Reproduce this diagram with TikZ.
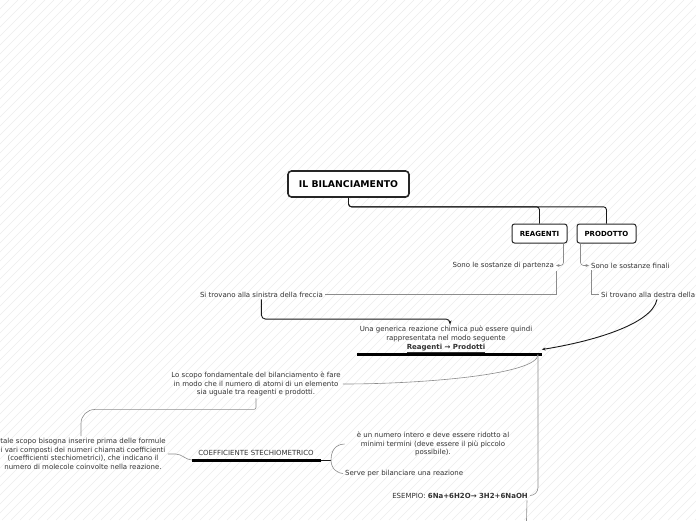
\documentclass[tikz,border=0pt]{standalone}
\usepackage{fontspec}
\setmainfont{DejaVu Sans}
\usetikzlibrary{arrows.meta}

\begin{document}
\begin{tikzpicture}[x=1pt,y=-1pt,
    hatch/.style={black!7,line width=.6pt},
    rootbox/.style={draw=black!85,line width=1.6pt,rounded corners=3.5pt,fill=white,minimum width=121pt,minimum height=26pt,font=\fontsize{9.3}{11}\selectfont\bfseries},
    tagbox/.style={draw=black!85,line width=1pt,rounded corners=2.5pt,fill=white,minimum height=19pt,inner xsep=0pt,font=\fontsize{7}{8}\selectfont\bfseries},
    txt/.style={text=black!80,align=center,inner sep=2pt,font=\fontsize{7}{8.7}\selectfont},
    link/.style={draw=black!45,line width=.6pt},
    mainlink/.style={draw=black!90,line width=.9pt},
    bar/.style={draw=black,line width=3pt},
    tip/.style={-{Stealth[length=3.5pt,width=3pt]}}]
    \useasboundingbox (0,0) rectangle (696,520);
    \clip (0,0) rectangle (696,520);
    \fill[white] (0,0) rectangle (696,520);
    \foreach \i in {0,9,...,1224}{
        \draw[hatch] (\i,0) -- (\i-520,520);
    }

    \node[rootbox] (title) at (348.5,184) {IL BILANCIAMENTO};
    \node[tagbox,minimum width=55pt] (reag) at (539.5,233.5) {REAGENTI};
    \node[tagbox,minimum width=59pt] (prod) at (606.5,233.5) {PRODOTTO};
    \node[txt,anchor=east] (partenza) at (556,265.5) {Sono le sostanze di partenza};
    \node[txt,anchor=west] (finali) at (589,265.5) {Sono le sostanze finali};
    \node[txt,anchor=east] (sinistra) at (325,294.5) {Si trovano alla sinistra della freccia};
    \node[txt,anchor=west] (destra) at (599,294.5) {Si trovano alla destra della};
    \node[txt] (reazione) at (446,339.5) {Una generica reazione chimica può essere quindi\\rappresentata nel modo seguente\\\underline{\textbf{Reagenti → Prodotti}}};
    \coordinate (barL) at (357,354.5);
    \coordinate (barR) at (542,354.5);
    \node[txt] (scopo) at (256,384) {Lo scopo fondamentale del bilanciamento è fare\\in modo che il numero di atomi di un elemento\\sia uguale tra reagenti e prodotti.};
    \node[txt] (tale) at (83,454) {tale scopo bisogna inserire prima delle formule\\i vari composti dei numeri chiamati coefficienti\\(coefficienti stechiometrici), che indicano il\\numero di molecole coinvolte nella reazione.};
    \node[txt] (coeff) at (256,452.5) {COEFFICIENTE STECHIOMETRICO};
    \coordinate (cbL) at (192,460);
    \coordinate (cbR) at (321,460);
    \node[txt] (intero) at (433,444) {è un numero intero e deve essere ridotto al\\minimi termini (deve essere il più piccolo\\possibile).};
    \node[txt,anchor=west] (serve) at (343,473.5) {Serve per bilanciare una reazione};
    \node[txt,anchor=east] (esempio) at (530,495.5) {ESEMPIO: \textbf{6Na+6H2O→ 3H2+6NaOH}};
    \coordinate (seguito) at (526,540);

    \draw[bar] (barL) -- (barR);
    \draw[bar] (cbL) -- (cbR);

    \draw[mainlink,rounded corners=3pt] (title.south) -- ++(0,9) -| (reag.north);
    \draw[mainlink,rounded corners=3pt] (title.south) -- ++(0,9) -| (prod.north);
    \draw[link,tip,rounded corners=3pt] ([xshift=-4pt]reag.south east) |- (partenza.east);
    \draw[link,tip,rounded corners=3pt] ([xshift=4pt]prod.south west) |- (finali.west);
    \draw[link] (partenza.south east) |- (sinistra.east);
    \draw[link] ([xshift=2pt]finali.south west) |- (destra.west);
    \draw[mainlink,tip,rounded corners=4pt] (sinistra.south) |- ([xshift=4pt,yshift=5pt]reazione.north) -- ([xshift=4pt]reazione.north);
    \draw[mainlink,tip] ([xshift=58pt]destra.south west) .. controls +(-5,25) and +(50,-8) .. ([yshift=5pt]barR);
    \draw[link] ([xshift=-4pt]barR) .. controls +(0,20) and +(80,0) .. (scopo.east);
    \draw[link,rounded corners=8pt] ([xshift=-4pt]barR) |- (esempio.east);
    \draw[link] ([xshift=-3pt]esempio.south east) -- (seguito);
    \draw[link] (scopo.south) [rounded corners=2pt] -- ++(0,11) [rounded corners=14pt] -| ([xshift=-2pt]tale.north);
    \draw[link] (tale.east) -- ++(8,0) .. controls +(6,0) and +(-6,0) .. (cbL);
    \draw[mainlink] (cbR) -- ++(10,0) coordinate (brace);
    \draw[link] (brace) .. controls +(0,-14) and +(-4,0) .. ([xshift=-10pt]intero.west);
    \draw[link] (brace) .. controls +(0,10) and +(-4,0) .. (serve.west);
\end{tikzpicture}
\end{document}
